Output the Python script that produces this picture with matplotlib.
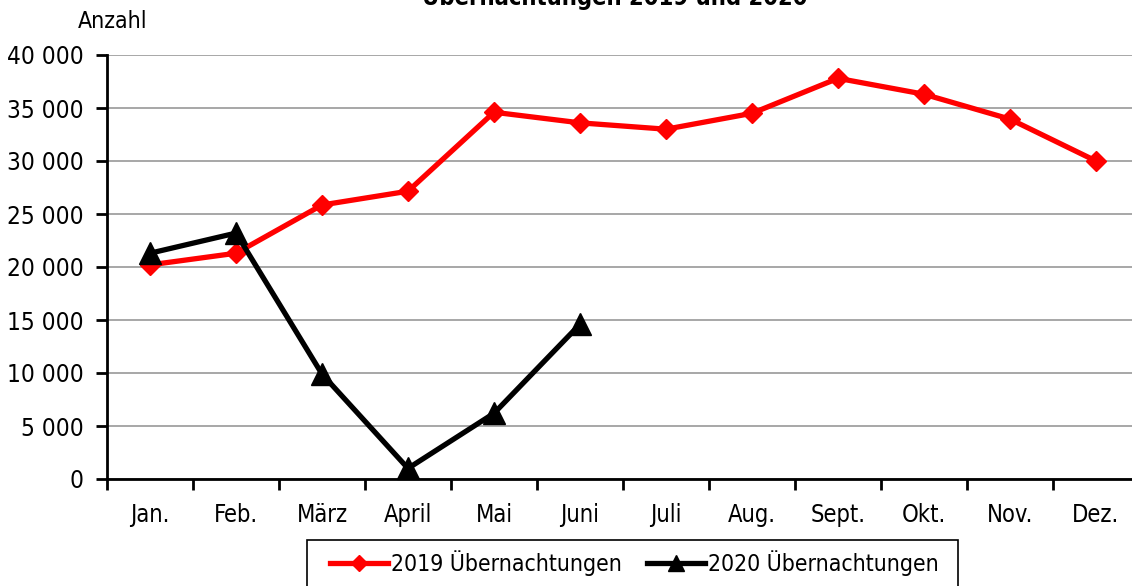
import matplotlib
matplotlib.use("Agg")
import matplotlib.pyplot as plt
from matplotlib.ticker import FuncFormatter
from matplotlib.patches import Rectangle

monate = ["Jan.", "Feb.", "März", "April", "Mai", "Juni", "Juli", "Aug.", "Sept.", "Okt.", "Nov.", "Dez."]
werte_2019 = [20200, 21300, 25850, 27150, 34600, 33600, 33000, 34500, 37800, 36300, 33950, 30000]
werte_2020 = [21300, 23200, 9900, 1000, 6200, 14600]

plt.rcParams['font.family'] = ['DejaVu Sans']
plt.rcParams['font.stretch'] = 'condensed'

fig = plt.figure(figsize=(11.32, 5.86), dpi=100)
W, H = 1132, 586
# plot area in pixels: left 107, right 1139, top 55, bottom 479
ax = fig.add_axes([107 / W, 1 - 479 / H, (1139 - 107) / W, (479 - 55) / H])

x = list(range(len(monate)))
ax.plot(x, werte_2019, color="#ff0000", lw=3.8, marker="D", ms=10.5,
        label="2019 Übernachtungen", clip_on=False, zorder=3)
ax.plot(x[:len(werte_2020)], werte_2020, color="black", lw=3.8, marker="^", ms=16,
        label="2020 Übernachtungen", clip_on=False, zorder=4)

ax.set_xlim(-0.5, 11.5)
ax.set_ylim(0, 40000)
ax.set_yticks(range(0, 40001, 5000))
ax.yaxis.set_major_formatter(FuncFormatter(lambda v, p: f"{int(v):,}".replace(",", " ")))
ax.set_xticks(x)
ax.set_xticklabels(monate)
ax.set_xticks([i - 0.5 for i in range(13)], minor=True)
ax.tick_params(axis="x", which="major", length=0, pad=17, labelsize=17)
ax.tick_params(axis="x", which="minor", length=8, width=2, direction="out")
ax.tick_params(axis="y", length=8, width=2, direction="out", labelsize=17.5, pad=9)

ax.grid(axis="y", color="#a0a0a0", lw=1.3)
ax.set_axisbelow(True)
for s in ["top", "right"]:
    ax.spines[s].set_visible(False)
for s in ["left", "bottom"]:
    ax.spines[s].set_linewidth(2)
    ax.spines[s].set_zorder(5)

fig.text(78 / W, 1 - 22 / H, "Anzahl", fontsize=16.5, va="center", ha="left")
fig.text(615 / W, 1 + 5 / H, "Übernachtungen 2019 und 2020", fontsize=17, fontweight="bold",
         ha="center", va="center")

# legend box drawn by hand, entries placed inside it
fig.patches.append(Rectangle((307 / W, 1 - 600 / H), (958 - 307) / W, 60 / H,
                             transform=fig.transFigure, fill=False, edgecolor="black", lw=1.2))
leg = fig.legend(loc="center left", bbox_to_anchor=(330 / W, 1 - 563 / H), ncol=2,
                 fontsize=16.5, frameon=False, handlelength=2.55, columnspacing=1.1,
                 borderpad=0, handletextpad=0.1, markerscale=0.75, borderaxespad=0)

fig.savefig("out.png", dpi=100)
